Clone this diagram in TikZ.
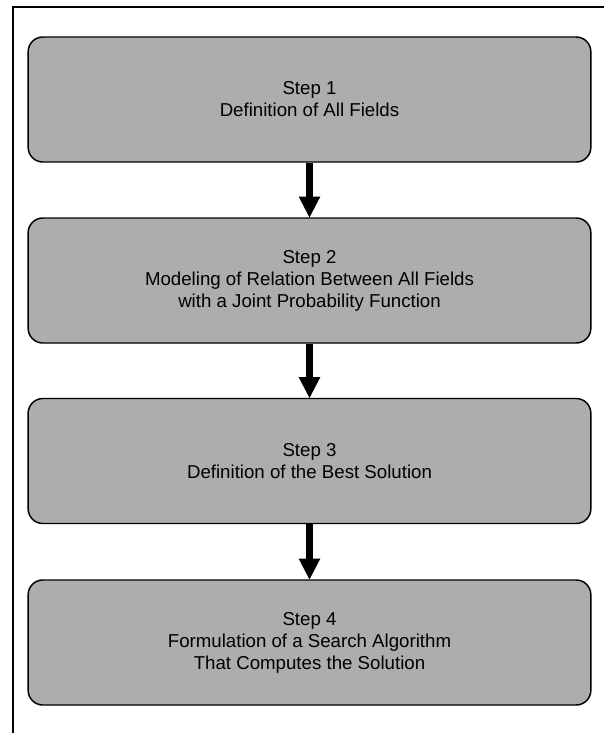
\documentclass[tikz,border=0pt]{standalone}
\usepackage{fontspec}
\setmainfont{Liberation Sans}
\usetikzlibrary{arrows.meta}
\begin{document}
\begin{tikzpicture}[x=0.75pt,y=-0.75pt,
  stepbox/.style={draw=black,line width=1.1pt,fill=black!32,rounded corners=11pt,
    minimum width=422pt,minimum height=93.75pt,align=center,inner sep=0pt,
    font=\fontsize{14}{16.5}\selectfont},
  flow/.style={line width=5pt,-{Triangle[width=15pt,length=16pt]},shorten >=-0.5pt}]
\useasboundingbox (0,0) rectangle (604,733);
\draw[line width=0.8pt] (13,733) -- (13,7) -- (604,7);
\node[stepbox] (b1) at (309.5,99.5) {Step 1\\Definition of All Fields};
\node[stepbox] (b2) at (309.5,280.5) {Step 2\\Modeling of Relation Between All Fields\\with a Joint Probability Function};
\node[stepbox] (b3) at (309.5,461) {Step 3\\Definition of the Best Solution};
\node[stepbox] (b4) at (309.5,642.5) {Step 4\\Formulation of a Search Algorithm\\That Computes the Solution};
\draw[flow] (b1.south) -- (b2.north);
\draw[flow] (b2.south) -- (b3.north);
\draw[flow] (b3.south) -- (b4.north);
\end{tikzpicture}
\end{document}
